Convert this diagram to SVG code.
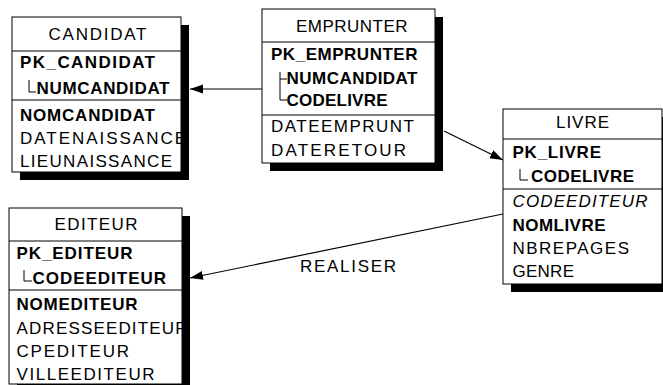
<svg xmlns="http://www.w3.org/2000/svg" width="663" height="385" viewBox="0 0 663 385">
<style>
text{font-family:"Liberation Sans",Arial,Helvetica,sans-serif;font-size:17px;fill:#000}
.b{font-weight:bold}
.i{font-style:italic}
.box{fill:#fff;stroke:#000;stroke-width:1}
.sh{fill:#000}
.dv{stroke:#000;stroke-width:1}
.tree{fill:none;stroke:#000;stroke-width:1}
.con{fill:none;stroke:#000;stroke-width:1.2}
</style>
<defs>
<marker id="ah" markerUnits="userSpaceOnUse" markerWidth="14" markerHeight="10" refX="13" refY="5" orient="auto">
<path d="M0,0.5 L13,5 L0,9.5 Z" fill="#000"/>
</marker>
<clipPath id="cC"><rect x="12" y="17" width="169" height="155"/></clipPath>
<clipPath id="cE"><rect x="262" y="9" width="173" height="154"/></clipPath>
<clipPath id="cL"><rect x="503" y="109" width="159" height="175"/></clipPath>
<clipPath id="cD"><rect x="9" y="208" width="173" height="176"/></clipPath>
</defs>

<g id="connectors">
<line class="con" x1="262" y1="89" x2="190" y2="89" marker-end="url(#ah)"/>
<line class="con" x1="444" y1="131" x2="503" y2="160" marker-end="url(#ah)"/>
<line class="con" x1="503" y1="214" x2="190" y2="278" marker-end="url(#ah)"/>
<text x="300" y="272" textLength="96" lengthAdjust="spacing">REALISER</text>
</g>

<g id="candidat">
<rect class="sh" x="20" y="25" width="169" height="155"/>
<rect class="box" x="12" y="17" width="169" height="155"/>
<line class="dv" x1="12" y1="51" x2="181" y2="51"/>
<line class="dv" x1="12" y1="100" x2="181" y2="100"/>
<g clip-path="url(#cC)">
<text x="48.5" y="40" textLength="98" lengthAdjust="spacing">CANDIDAT</text>
<text class="b" x="20" y="68" textLength="135" lengthAdjust="spacing">PK_CANDIDAT</text>
<path class="tree" d="M29,80 V92 H36"/>
<text class="b" x="36.5" y="94" textLength="133" lengthAdjust="spacing">NUMCANDIDAT</text>
<text class="b" x="20" y="121" textLength="135" lengthAdjust="spacing">NOMCANDIDAT</text>
<text x="20" y="144" textLength="166" lengthAdjust="spacing">DATENAISSANCE</text>
<text x="20" y="167" textLength="152" lengthAdjust="spacing">LIEUNAISSANCE</text>
</g>
</g>

<g id="emprunter">
<rect class="sh" x="270" y="17" width="173" height="154"/>
<rect class="box" x="262" y="9" width="173" height="154"/>
<line class="dv" x1="262" y1="42" x2="435" y2="42"/>
<line class="dv" x1="262" y1="115" x2="435" y2="115"/>
<g clip-path="url(#cE)">
<text x="296" y="32" textLength="111.5" lengthAdjust="spacing">EMPRUNTER</text>
<text class="b" x="271" y="60" textLength="146.5" lengthAdjust="spacing">PK_EMPRUNTER</text>
<path class="tree" d="M280,72 V100 H287 M280,79 H287"/>
<text class="b" x="286.5" y="84" textLength="131" lengthAdjust="spacing">NUMCANDIDAT</text>
<text class="b" x="286.5" y="106" textLength="101" lengthAdjust="spacing">CODELIVRE</text>
<text x="271" y="132" textLength="143" lengthAdjust="spacing">DATEEMPRUNT</text>
<text x="271" y="156" textLength="135" lengthAdjust="spacing">DATERETOUR</text>
</g>
</g>

<g id="livre">
<rect class="sh" x="511" y="117" width="159" height="175"/>
<rect class="box" x="503" y="109" width="159" height="175"/>
<line class="dv" x1="503" y1="139" x2="662" y2="139"/>
<line class="dv" x1="503" y1="189" x2="662" y2="189"/>
<g clip-path="url(#cL)">
<text x="556" y="128" textLength="53" lengthAdjust="spacing">LIVRE</text>
<text class="b" x="512.5" y="158" textLength="88.5" lengthAdjust="spacing">PK_LIVRE</text>
<path class="tree" d="M520,169 V180 H528"/>
<text class="b" x="531" y="182" textLength="103" lengthAdjust="spacing">CODELIVRE</text>
<text class="i" x="512.5" y="207" textLength="135" lengthAdjust="spacing">CODEEDITEUR</text>
<text class="b" x="512.5" y="231" textLength="93" lengthAdjust="spacing">NOMLIVRE</text>
<text x="512.5" y="254" textLength="116.5" lengthAdjust="spacing">NBREPAGES</text>
<text x="512.5" y="277" textLength="61.5" lengthAdjust="spacing">GENRE</text>
</g>
</g>

<g id="editeur">
<rect class="sh" x="17" y="216" width="173" height="176"/>
<rect class="box" x="9" y="208" width="173" height="176"/>
<line class="dv" x1="9" y1="241" x2="182" y2="241"/>
<line class="dv" x1="9" y1="290" x2="182" y2="290"/>
<g clip-path="url(#cD)">
<text x="54.5" y="230" textLength="83" lengthAdjust="spacing">EDITEUR</text>
<text class="b" x="16.5" y="259" textLength="116" lengthAdjust="spacing">PK_EDITEUR</text>
<path class="tree" d="M24,270 V281 H32"/>
<text class="b" x="32.5" y="284" textLength="133.5" lengthAdjust="spacing">CODEEDITEUR</text>
<text class="b" x="16.5" y="310" textLength="121" lengthAdjust="spacing">NOMEDITEUR</text>
<text x="16.5" y="334" textLength="171" lengthAdjust="spacing">ADRESSEEDITEUR</text>
<text x="16.5" y="357" textLength="112.5" lengthAdjust="spacing">CPEDITEUR</text>
<text x="16.5" y="380" textLength="138" lengthAdjust="spacing">VILLEEDITEUR</text>
</g>
</g>
</svg>
